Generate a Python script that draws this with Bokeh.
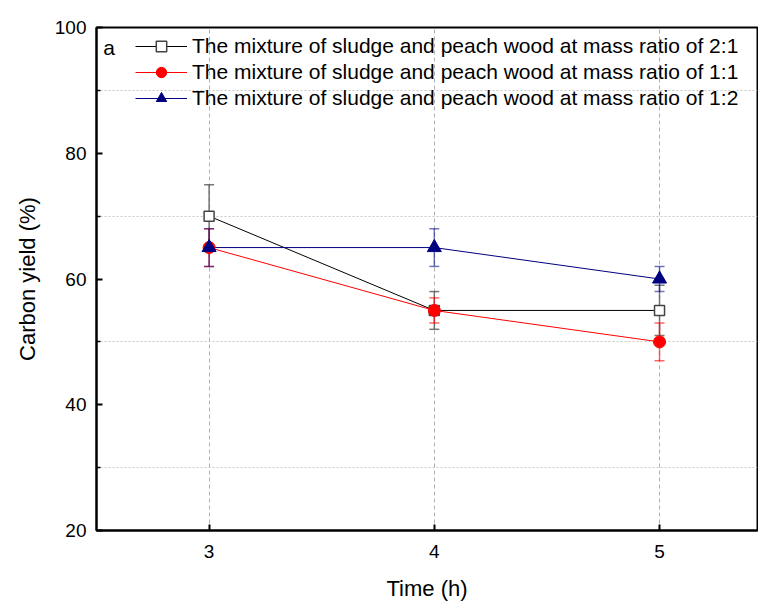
from bokeh.plotting import figure
from bokeh.models import (ColumnDataSource, Whisker, TeeHead, FixedTicker, Legend,
                          LegendItem, Label, Range1d)
from bokeh.embed import file_html
from bokeh.resources import INLINE

# ---- data ----
time_h = [3, 4, 5]
ratio_2_1 = [70, 55, 55]
err_2_1 = [5, 3, 4]
ratio_1_1 = [65, 55, 50]
err_1_1 = [3, 2, 3]
ratio_1_2 = [65, 65, 60]
err_1_2 = [3, 3, 2]
labels = ["The mixture of sludge and peach wood at mass ratio of 2:1",
          "The mixture of sludge and peach wood at mass ratio of 1:1",
          "The mixture of sludge and peach wood at mass ratio of 1:2"]
y_major = [20, 40, 60, 80, 100]
y_minor = [30, 50, 70, 90]
x_ticks = [3, 4, 5]

FONT = "Liberation Sans"

p = figure(width=758, height=604, output_backend="svg", toolbar_location=None,
           x_range=Range1d(2.5, 5.435), y_range=Range1d(20, 100),
           min_border_left=96, min_border_right=1, min_border_top=27,
           min_border_bottom=74)
p.background_fill_color = "white"
p.border_fill_color = "white"
p.outline_line_color = "black"
p.outline_line_width = 2

# axes
for ax in (p.xaxis[0], p.yaxis[0]):
    ax.axis_line_width = 2
    ax.axis_line_color = "black"
    ax.major_tick_in = 6
    ax.major_tick_out = 0
    ax.major_tick_line_width = 2
    ax.major_tick_line_color = "black"
    ax.minor_tick_in = 4
    ax.minor_tick_out = 0
    ax.minor_tick_line_width = 1.5
    ax.minor_tick_line_color = "black"
    ax.major_label_text_font = FONT
    ax.major_label_text_font_size = "19px"
    ax.major_label_text_color = "black"
    ax.axis_label_text_font = FONT
    ax.axis_label_text_font_size = "22px"
    ax.axis_label_text_font_style = "normal"
    ax.axis_label_text_color = "black"

p.xaxis.ticker = FixedTicker(ticks=x_ticks, minor_ticks=[])
p.yaxis.ticker = FixedTicker(ticks=y_major, minor_ticks=y_minor)
p.xaxis.axis_label = "Time (h)"
p.yaxis.axis_label = "Carbon yield (%)"
p.xaxis.major_label_standoff = 14
p.xaxis.axis_label_standoff = 15
p.yaxis.major_label_standoff = 10
p.yaxis.axis_label_standoff = 12

# grids
p.xgrid.grid_line_color = "#b0b0b0"
p.xgrid.grid_line_dash = "4 3"
p.xgrid.grid_line_width = 1
p.ygrid.grid_line_color = None
p.ygrid.minor_grid_line_color = "#c8c8c8"
p.ygrid.minor_grid_line_dash = "2 2"
p.ygrid.minor_grid_line_width = 1

# error bars
def add_err(vals, errs, color, alpha):
    src = ColumnDataSource(dict(x=time_h,
                                upper=[v + e for v, e in zip(vals, errs)],
                                lower=[v - e for v, e in zip(vals, errs)]))
    w = Whisker(source=src, base="x", upper="upper", lower="lower",
                line_color=color, line_alpha=alpha, line_width=1.5,
                upper_head=TeeHead(size=10, line_color=color, line_alpha=alpha, line_width=1.5),
                lower_head=TeeHead(size=10, line_color=color, line_alpha=alpha, line_width=1.5))
    p.add_layout(w)

add_err(ratio_2_1, err_2_1, "#555555", 0.8)
add_err(ratio_1_1, err_1_1, "#ff0000", 0.6)
add_err(ratio_1_2, err_1_2, "#000080", 0.55)

# lines and markers
l1 = p.line(time_h, ratio_2_1, line_color="black", line_width=1)
l2 = p.line(time_h, ratio_1_1, line_color="#ff0000", line_width=1)
l3 = p.line(time_h, ratio_1_2, line_color="#000080", line_width=1)
m1 = p.scatter(time_h, ratio_2_1, marker="square", size=10, fill_color="white",
               line_color="#444444", line_width=1.5)
m2 = p.scatter(time_h, ratio_1_1, marker="circle", size=12, fill_color="#ff0000",
               line_color="#ff0000", line_width=1)
m3 = p.scatter(time_h, ratio_1_2, marker="triangle", size=14, fill_color="#000080",
               line_color="#000080", line_width=1)

legend = Legend(items=[LegendItem(label=labels[0], renderers=[l1, m1]),
                       LegendItem(label=labels[1], renderers=[l2, m2]),
                       LegendItem(label=labels[2], renderers=[l3, m3])],
                location=(39, 419), padding=0, margin=0, spacing=0,
                glyph_width=52, glyph_height=26, label_height=20,
                label_standoff=5, border_line_color=None,
                background_fill_alpha=0,
                label_text_font=FONT, label_text_font_size="21px",
                label_text_color="black")
p.add_layout(legend)

p.add_layout(Label(x=2.53, y=96.8, text="a", text_font=FONT, text_font_size="21px",
                   text_baseline="middle", text_color="black"))

open("out.html", "w").write(file_html(p, INLINE))
